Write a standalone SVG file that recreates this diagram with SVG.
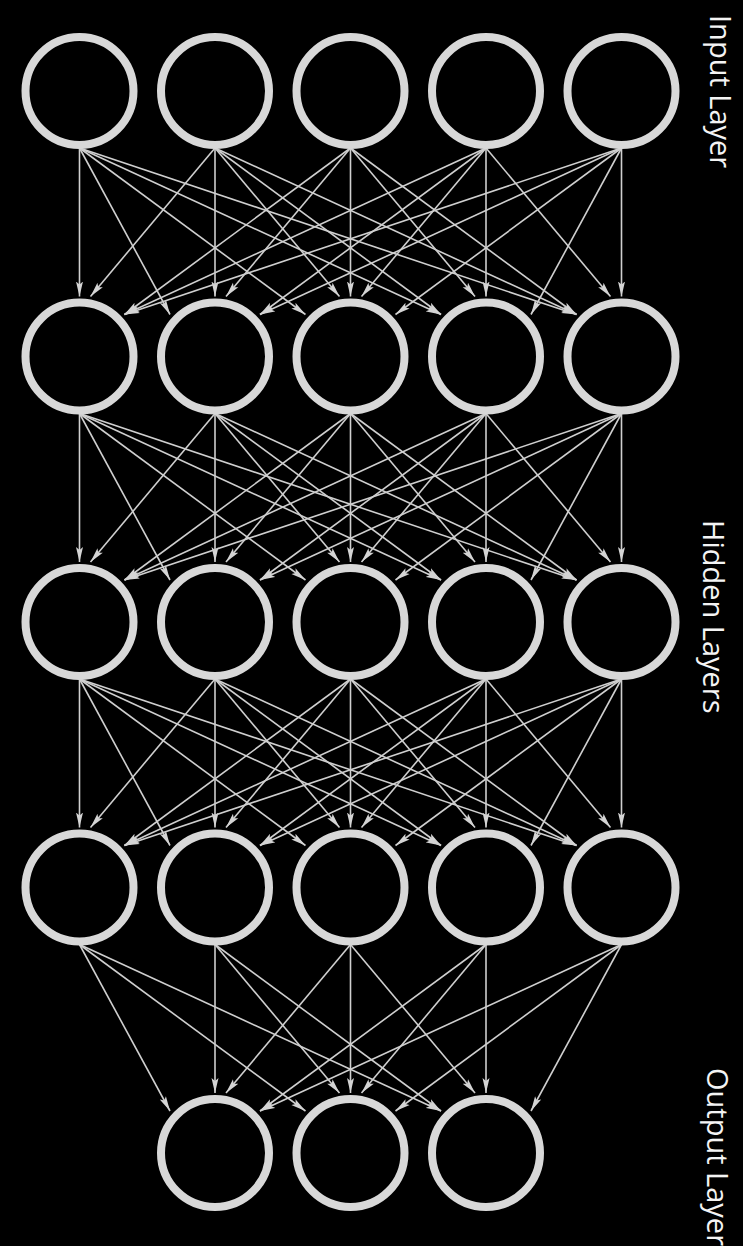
<svg xmlns="http://www.w3.org/2000/svg" width="743" height="1246" viewBox="0 0 743 1246">
<style>
.e{stroke:#cfcfcf;stroke-width:1.6;fill:none;marker-end:url(#ah)}
.n{fill:#000;stroke:#d8d8d8;stroke-width:8}
.t{font-family:"Open Sans","Noto Sans",sans-serif;font-size:29px;fill:#f4f4f4}
</style>
<defs>
<marker id="ah" markerUnits="userSpaceOnUse" markerWidth="15" markerHeight="8" viewBox="0 0 15 8" refX="15" refY="4" orient="auto">
<path d="M0,0.5 L15,4 L0,7.5 L3,4 z" fill="#d4d4d4"/>
</marker>
</defs>
<rect width="743" height="1246" fill="#000"/>
<g id="connectors">
<!-- layer 1 to 2 -->
<line class="e" x1="79.5" y1="148" x2="79.5" y2="296.5"/>
<line class="e" x1="79.5" y1="148" x2="170" y2="314.5"/>
<line class="e" x1="79.5" y1="148" x2="305.5" y2="314.5"/>
<line class="e" x1="79.5" y1="148" x2="441" y2="314.5"/>
<line class="e" x1="79.5" y1="148" x2="576.5" y2="314.5"/>
<line class="e" x1="215" y1="148" x2="90.5" y2="296.5"/>
<line class="e" x1="215" y1="148" x2="215" y2="296.5"/>
<line class="e" x1="215" y1="148" x2="339.5" y2="296.5"/>
<line class="e" x1="215" y1="148" x2="441" y2="314.5"/>
<line class="e" x1="215" y1="148" x2="576.5" y2="314.5"/>
<line class="e" x1="350.5" y1="148" x2="124.5" y2="314.5"/>
<line class="e" x1="350.5" y1="148" x2="226" y2="296.5"/>
<line class="e" x1="350.5" y1="148" x2="350.5" y2="296.5"/>
<line class="e" x1="350.5" y1="148" x2="475" y2="296.5"/>
<line class="e" x1="350.5" y1="148" x2="576.5" y2="314.5"/>
<line class="e" x1="486" y1="148" x2="124.5" y2="314.5"/>
<line class="e" x1="486" y1="148" x2="260" y2="314.5"/>
<line class="e" x1="486" y1="148" x2="361.5" y2="296.5"/>
<line class="e" x1="486" y1="148" x2="486" y2="296.5"/>
<line class="e" x1="486" y1="148" x2="610.5" y2="296.5"/>
<line class="e" x1="621.5" y1="148" x2="124.5" y2="314.5"/>
<line class="e" x1="621.5" y1="148" x2="260" y2="314.5"/>
<line class="e" x1="621.5" y1="148" x2="395.5" y2="314.5"/>
<line class="e" x1="621.5" y1="148" x2="531" y2="314.5"/>
<line class="e" x1="621.5" y1="148" x2="621.5" y2="296.5"/>
<!-- layer 2 to 3 -->
<line class="e" x1="79.5" y1="413.5" x2="79.5" y2="562"/>
<line class="e" x1="79.5" y1="413.5" x2="170" y2="580"/>
<line class="e" x1="79.5" y1="413.5" x2="305.5" y2="580"/>
<line class="e" x1="79.5" y1="413.5" x2="441" y2="580"/>
<line class="e" x1="79.5" y1="413.5" x2="576.5" y2="580"/>
<line class="e" x1="215" y1="413.5" x2="90.5" y2="562"/>
<line class="e" x1="215" y1="413.5" x2="215" y2="562"/>
<line class="e" x1="215" y1="413.5" x2="339.5" y2="562"/>
<line class="e" x1="215" y1="413.5" x2="441" y2="580"/>
<line class="e" x1="215" y1="413.5" x2="576.5" y2="580"/>
<line class="e" x1="350.5" y1="413.5" x2="124.5" y2="580"/>
<line class="e" x1="350.5" y1="413.5" x2="226" y2="562"/>
<line class="e" x1="350.5" y1="413.5" x2="350.5" y2="562"/>
<line class="e" x1="350.5" y1="413.5" x2="475" y2="562"/>
<line class="e" x1="350.5" y1="413.5" x2="576.5" y2="580"/>
<line class="e" x1="486" y1="413.5" x2="124.5" y2="580"/>
<line class="e" x1="486" y1="413.5" x2="260" y2="580"/>
<line class="e" x1="486" y1="413.5" x2="361.5" y2="562"/>
<line class="e" x1="486" y1="413.5" x2="486" y2="562"/>
<line class="e" x1="486" y1="413.5" x2="610.5" y2="562"/>
<line class="e" x1="621.5" y1="413.5" x2="124.5" y2="580"/>
<line class="e" x1="621.5" y1="413.5" x2="260" y2="580"/>
<line class="e" x1="621.5" y1="413.5" x2="395.5" y2="580"/>
<line class="e" x1="621.5" y1="413.5" x2="531" y2="580"/>
<line class="e" x1="621.5" y1="413.5" x2="621.5" y2="562"/>
<!-- layer 3 to 4 -->
<line class="e" x1="79.5" y1="679" x2="79.5" y2="827.5"/>
<line class="e" x1="79.5" y1="679" x2="170" y2="845.5"/>
<line class="e" x1="79.5" y1="679" x2="305.5" y2="845.5"/>
<line class="e" x1="79.5" y1="679" x2="441" y2="845.5"/>
<line class="e" x1="79.5" y1="679" x2="576.5" y2="845.5"/>
<line class="e" x1="215" y1="679" x2="90.5" y2="827.5"/>
<line class="e" x1="215" y1="679" x2="215" y2="827.5"/>
<line class="e" x1="215" y1="679" x2="339.5" y2="827.5"/>
<line class="e" x1="215" y1="679" x2="441" y2="845.5"/>
<line class="e" x1="215" y1="679" x2="576.5" y2="845.5"/>
<line class="e" x1="350.5" y1="679" x2="124.5" y2="845.5"/>
<line class="e" x1="350.5" y1="679" x2="226" y2="827.5"/>
<line class="e" x1="350.5" y1="679" x2="350.5" y2="827.5"/>
<line class="e" x1="350.5" y1="679" x2="475" y2="827.5"/>
<line class="e" x1="350.5" y1="679" x2="576.5" y2="845.5"/>
<line class="e" x1="486" y1="679" x2="124.5" y2="845.5"/>
<line class="e" x1="486" y1="679" x2="260" y2="845.5"/>
<line class="e" x1="486" y1="679" x2="361.5" y2="827.5"/>
<line class="e" x1="486" y1="679" x2="486" y2="827.5"/>
<line class="e" x1="486" y1="679" x2="610.5" y2="827.5"/>
<line class="e" x1="621.5" y1="679" x2="124.5" y2="845.5"/>
<line class="e" x1="621.5" y1="679" x2="260" y2="845.5"/>
<line class="e" x1="621.5" y1="679" x2="395.5" y2="845.5"/>
<line class="e" x1="621.5" y1="679" x2="531" y2="845.5"/>
<line class="e" x1="621.5" y1="679" x2="621.5" y2="827.5"/>
<!-- layer 4 to output -->
<line class="e" x1="79.5" y1="944.5" x2="170" y2="1111"/>
<line class="e" x1="79.5" y1="944.5" x2="305.5" y2="1111"/>
<line class="e" x1="79.5" y1="944.5" x2="441" y2="1111"/>
<line class="e" x1="215" y1="944.5" x2="215" y2="1093"/>
<line class="e" x1="215" y1="944.5" x2="339.5" y2="1093"/>
<line class="e" x1="215" y1="944.5" x2="441" y2="1111"/>
<line class="e" x1="350.5" y1="944.5" x2="226" y2="1093"/>
<line class="e" x1="350.5" y1="944.5" x2="350.5" y2="1093"/>
<line class="e" x1="350.5" y1="944.5" x2="475" y2="1093"/>
<line class="e" x1="486" y1="944.5" x2="260" y2="1111"/>
<line class="e" x1="486" y1="944.5" x2="361.5" y2="1093"/>
<line class="e" x1="486" y1="944.5" x2="486" y2="1093"/>
<line class="e" x1="621.5" y1="944.5" x2="260" y2="1111"/>
<line class="e" x1="621.5" y1="944.5" x2="395.5" y2="1111"/>
<line class="e" x1="621.5" y1="944.5" x2="531" y2="1111"/>
</g>
<g id="layer1">
<g id="n1_1"><circle class="n" cx="79.5" cy="91" r="54"/></g>
<g id="n1_2"><circle class="n" cx="215" cy="91" r="54"/></g>
<g id="n1_3"><circle class="n" cx="350.5" cy="91" r="54"/></g>
<g id="n1_4"><circle class="n" cx="486" cy="91" r="54"/></g>
<g id="n1_5"><circle class="n" cx="621.5" cy="91" r="54"/></g>
</g>
<g id="layer2">
<g id="n2_1"><circle class="n" cx="79.5" cy="356.5" r="54"/></g>
<g id="n2_2"><circle class="n" cx="215" cy="356.5" r="54"/></g>
<g id="n2_3"><circle class="n" cx="350.5" cy="356.5" r="54"/></g>
<g id="n2_4"><circle class="n" cx="486" cy="356.5" r="54"/></g>
<g id="n2_5"><circle class="n" cx="621.5" cy="356.5" r="54"/></g>
</g>
<g id="layer3">
<g id="n3_1"><circle class="n" cx="79.5" cy="622" r="54"/></g>
<g id="n3_2"><circle class="n" cx="215" cy="622" r="54"/></g>
<g id="n3_3"><circle class="n" cx="350.5" cy="622" r="54"/></g>
<g id="n3_4"><circle class="n" cx="486" cy="622" r="54"/></g>
<g id="n3_5"><circle class="n" cx="621.5" cy="622" r="54"/></g>
</g>
<g id="layer4">
<g id="n4_1"><circle class="n" cx="79.5" cy="887.5" r="54"/></g>
<g id="n4_2"><circle class="n" cx="215" cy="887.5" r="54"/></g>
<g id="n4_3"><circle class="n" cx="350.5" cy="887.5" r="54"/></g>
<g id="n4_4"><circle class="n" cx="486" cy="887.5" r="54"/></g>
<g id="n4_5"><circle class="n" cx="621.5" cy="887.5" r="54"/></g>
</g>
<g id="output">
<g id="o1"><circle class="n" cx="215" cy="1153" r="54"/></g>
<g id="o2"><circle class="n" cx="350.5" cy="1153" r="54"/></g>
<g id="o3"><circle class="n" cx="486" cy="1153" r="54"/></g>
</g>
<g id="labels">
<text class="t" transform="translate(710,15) rotate(90)">Input Layer</text>
<text class="t" transform="translate(703,520) rotate(90)">Hidden Layers</text>
<text class="t" transform="translate(707,1068) rotate(90)">Output Layer</text>
</g>
</svg>
